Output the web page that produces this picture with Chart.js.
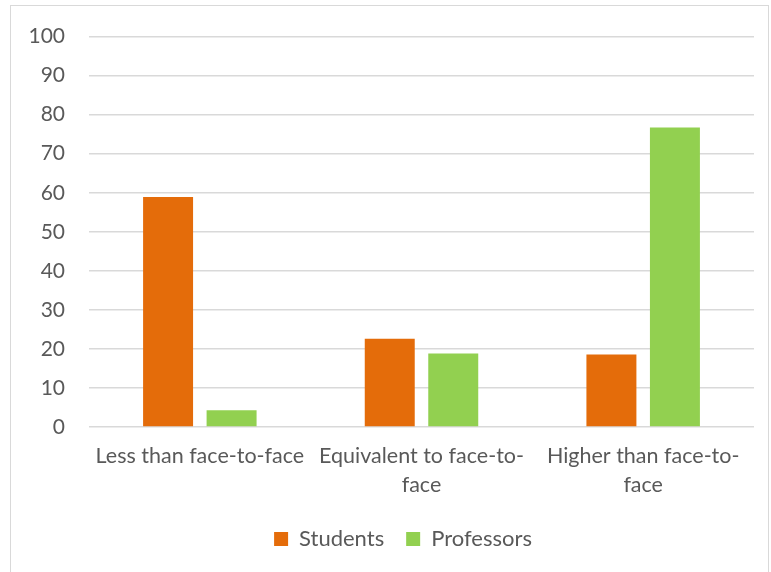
<!DOCTYPE html>
<html>
<head>
<meta charset="utf-8">
<script src="https://cdn.jsdelivr.net/npm/chart.js@4.4.0/dist/chart.umd.min.js"></script>
<style>
    html, body { margin: 0; padding: 0; background: #fff; }
    #frame {
        position: absolute; left: 10px; top: 5px; width: 757px; height: 580px;
        border: 1.5px solid #d9d9d9;
    }
    #wrap { position: absolute; left: 0; top: 0; width: 771px; height: 572px; }
</style>
</head>
<body>
<div id="frame"></div>
<div id="wrap"><canvas id="chart" width="771" height="572"></canvas></div>
<script>
// categories (multi-line where the original wraps)
const categories = [
    'Less than face-to-face',
    ['Equivalent to face-to-', 'face'],
    ['Higher than face-to-', 'face']
];
const seriesNames = ['Students', 'Professors'];
const studentValues = [58.9, 22.6, 18.6];
const professorValues = [4.3, 18.8, 76.7];
const yTicks = [0, 10, 20, 30, 40, 50, 60, 70, 80, 90, 100];

const orange = '#e46c0a';
const green = '#92d050';
const textGrey = '#595959';
const gridGrey = '#d9d9d9';

Chart.defaults.font.family = 'Lato, "Open Sans", sans-serif';
Chart.defaults.color = textGrey;

// the original legend sits a bit right of the canvas centre
const shiftLegend = {
    id: 'shiftLegend',
    afterLayout(chart) {
        const lg = chart.legend;
        if (lg) { lg.left += 26; lg.right += 26; }
    }
};

const ctx = document.getElementById('chart').getContext('2d');
new Chart(ctx, {
    type: 'bar',
    data: {
        labels: categories,
        datasets: [
            { label: seriesNames[0], data: studentValues, backgroundColor: orange,
              barPercentage: 0.787, categoryPercentage: 0.573 },
            { label: seriesNames[1], data: professorValues, backgroundColor: green,
              barPercentage: 0.787, categoryPercentage: 0.573 }
        ]
    },
    options: {
        responsive: false,
        animation: false,
        layout: { padding: { left: 0, right: 17, top: 35, bottom: 12 } },
        plugins: {
            tooltip: { enabled: false },
            legend: {
                position: 'bottom',
                labels: {
                    boxWidth: 14, boxHeight: 14, padding: 22,
                    color: textGrey, font: { size: 22 }
                }
            }
        },
        scales: {
            x: {
                grid: { display: false },
                border: { display: false },
                ticks: { color: textGrey, font: { size: 21.5, lineHeight: 1.37 }, maxRotation: 0, autoSkip: false, padding: 6 },
                afterFit: s => { s.height = 79; }
            },
            y: {
                min: 0, max: 100,
                afterBuildTicks: s => { s.ticks = yTicks.map(v => ({ value: v })); },
                grid: { color: gridGrey, lineWidth: 1.5, drawTicks: false },
                border: { display: false },
                ticks: { color: textGrey, font: { size: 21 }, padding: 24 },
                afterFit: s => { s.width = 89; }
            }
        }
    },
    plugins: [shiftLegend]
});
</script>
</body>
</html>
